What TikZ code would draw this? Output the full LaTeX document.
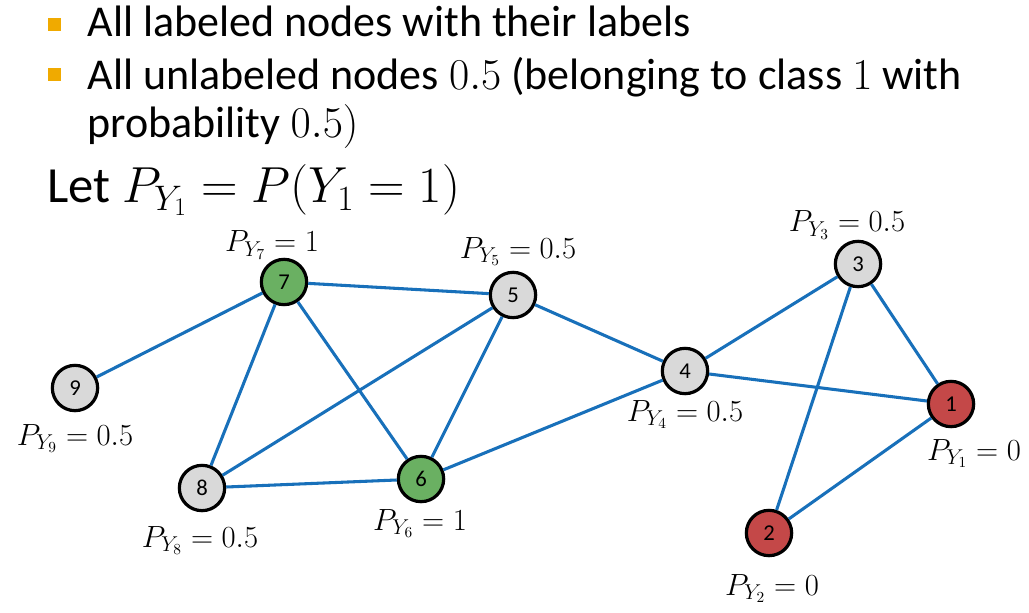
\RequirePackage{fix-cm}
\documentclass[tikz,border=0pt]{standalone}
\usepackage[no-math]{fontspec}
\setmainfont{Carlito}
\usetikzlibrary{positioning}
\definecolor{edgeblue}{RGB}{24,112,186}
\definecolor{nodegray}{RGB}{217,217,217}
\definecolor{nodegreen}{RGB}{106,176,98}
\definecolor{nodered}{RGB}{196,72,72}
\definecolor{bulletorange}{RGB}{240,170,0}

\begin{document}
\begin{tikzpicture}[x=0.75pt,y=-0.75pt,draw=edgeblue,line width=2.3pt,
  main node/.style={circle,fill=nodegray,draw=black,line width=2.4pt,
    minimum size=34pt,inner sep=0pt,font=\fontsize{17}{20}\selectfont},
  green node/.style={main node,fill=nodegreen},
  red node/.style={main node,fill=nodered},
  prob/.style={anchor=base,inner sep=0pt,font=\fontsize{23}{26}\selectfont},
  line/.style={anchor=base west,inner sep=0pt,font=\fontsize{33}{36}\selectfont}]
  \useasboundingbox (0,0) rectangle (1029,613);

  % bullets and text
  \fill[bulletorange] (48,18) rectangle (61,31);
  \fill[bulletorange] (48,68) rectangle (61,81);
  \node[line] (b1) at (86,37) {All labeled nodes with their labels};
  \node[line] (b2) at (86,90) {All unlabeled nodes $0.5$ (belonging to class $1$ with};
  \node[line] (b3) at (86,138) {probability $0.5)$};
  \node[anchor=base west,inner sep=0pt,font=\fontsize{38}{42}\selectfont] (let) at (46,203)
    {Let $P_{Y_1} = P(Y_1 = 1)$};

  % graph
  \node[red node] (1) at (951,404) {1};
  \node[red node] (2) at (769,533) {2};
  \node[main node] (3) at (858,264) {3};
  \node[main node] (4) at (685,371) {4};
  \node[main node] (5) at (513,295) {5};
  \node[green node] (6) at (421,479) {6};
  \node[green node] (7) at (284,282) {7};
  \node[main node] (8) at (202,488) {8};
  \node[main node] (9) at (75,388) {9};

  \node[prob] (p1) at (974,460) {$P_{Y_1} = 0$};
  \node[prob] (p2) at (772,595) {$P_{Y_2} = 0$};
  \node[prob] (p3) at (847,232) {$P_{Y_3} = 0.5$};
  \node[prob] (p4) at (685,421) {$P_{Y_4} = 0.5$};
  \node[prob] (p5) at (518,258) {$P_{Y_5} = 0.5$};
  \node[prob] (p6) at (420,530) {$P_{Y_6} = 1$};
  \node[prob] (p7) at (272,252) {$P_{Y_7} = 1$};
  \node[prob] (p8) at (200,547) {$P_{Y_8} = 0.5$};
  \node[prob] (p9) at (75,445) {$P_{Y_9} = 0.5$};

  \path
    (7) edge (5)
        edge (9)
        edge (8)
        edge (6)
    (5) edge (8)
        edge (6)
        edge (4)
    (8) edge (6)
    (6) edge (4)
    (4) edge (3)
        edge (1)
    (3) edge (1)
        edge (2)
    (1) edge (2);
\end{tikzpicture}
\end{document}
